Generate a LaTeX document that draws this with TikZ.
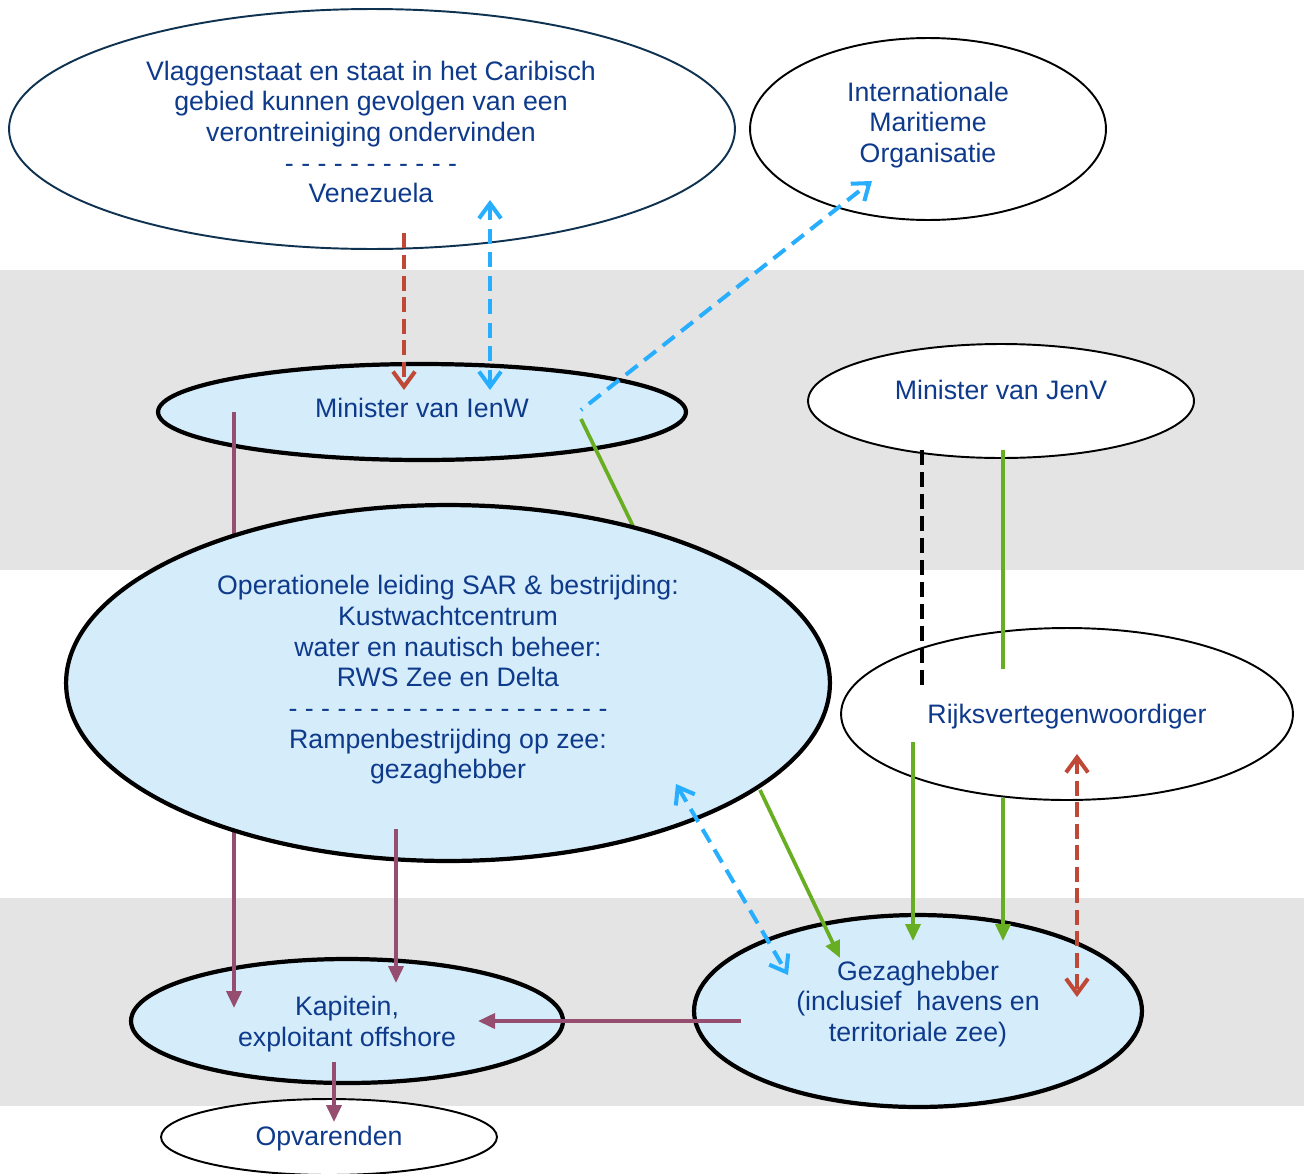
\documentclass[tikz,border=0pt]{standalone}
\usepackage{fontspec}
\setmainfont{Liberation Sans}
\usetikzlibrary{shapes.geometric,arrows.meta}
\definecolor{band}{RGB}{228,228,228}
\definecolor{lblue}{RGB}{213,236,250}
\definecolor{txtblue}{RGB}{14,58,140}
\definecolor{navy}{RGB}{14,50,80}
\definecolor{redc}{RGB}{192,72,55}
\definecolor{bluec}{RGB}{40,174,255}
\definecolor{greenc}{RGB}{104,174,34}
\definecolor{purplec}{RGB}{150,78,112}
\tikzset{
  ell/.style={ellipse, inner sep=0pt, draw=black},
  thinell/.style={ell, line width=1.1pt, fill=white},
  thickell/.style={ell, line width=2.4pt, fill=lblue},
  txt/.style={text=txtblue, align=center, inner sep=0pt,
    font=\fontsize{15.2}{17.45}\selectfont},
  purp/.style={draw=purplec, line width=2.1pt},
  purparrow/.style={purp, -{Triangle[length=0.34cm,width=0.3cm]}},
  grn/.style={draw=greenc, line width=2.1pt},
  grnarrow/.style={grn, -{Triangle[length=0.34cm,width=0.3cm]}},
  bluedash/.style={draw=bluec, line width=2.3pt, dash pattern=on 0.3cm off 0.17cm},
  reddash/.style={draw=redc, line width=2.3pt, dash pattern=on 0.3cm off 0.13cm},
  blackdash/.style={draw=black, line width=2.3pt, dash pattern=on 0.3cm off 0.14cm},
  openbarb/.tip={Straight Barb[length=0.3cm,width=0.44cm,line width=2.3pt]},
}
\begin{document}
\begin{tikzpicture}[x=0.02cm,y=-0.02cm]
\useasboundingbox (0,0) rectangle (1304,1173);
% background bands
\fill[band] (0,270) rectangle (1304,570);
\fill[band] (0,898) rectangle (1304,1106);

% upper ellipses
\node[thinell, draw=navy, minimum width=14.52cm, minimum height=4.8cm] (vlag) at (372,129) {};
\node[thinell, minimum width=7.12cm, minimum height=3.64cm] (imo) at (928,129) {};
\node[thinell, minimum width=7.72cm, minimum height=2.28cm] (jenv) at (1001,401) {};
\node[thickell, minimum width=10.56cm, minimum height=1.92cm] (ienw) at (422,412) {};
\node[thickell, minimum width=8.64cm, minimum height=2.48cm] (kap) at (347,1021) {};

% connectors passing behind the operational ellipse
\coordinate (p1s) at (234,412);
\coordinate (p1e) at (234,1008);
\draw[purparrow] (p1s) -- (p1e);
\coordinate (g1s) at (581,419);
\coordinate (g1e) at (633,526);
\draw[grn] (g1s) -- (g1e);

\node[thickell, minimum width=15.28cm, minimum height=7.12cm] (oper) at (448,683) {};
\node[thinell, minimum width=9.04cm, minimum height=3.44cm] (rijks) at (1067,714) {};
\node[thickell, minimum width=8.96cm, minimum height=3.84cm] (gez) at (918,1011) {};
\node[thinell, minimum width=6.72cm, minimum height=1.52cm] (opv) at (329,1137) {};

% connectors
\coordinate (r1s) at (404,233);
\coordinate (r1e) at (404,390);
\draw[reddash, -{openbarb}] (r1s) -- (r1e);
\coordinate (b1s) at (490,200);
\coordinate (b1e) at (490,390);
\draw[bluedash, {openbarb}-{openbarb}] (b1s) -- (b1e);
\coordinate (b2s) at (581,410);
\coordinate (b2e) at (872,181);
\draw[bluedash, dash phase=0.27cm, -{openbarb}] (b2s) -- (b2e);

\coordinate (p2s) at (396,829);
\coordinate (p2e) at (396,983);
\draw[purparrow] (p2s) -- (p2e);
\coordinate (p3s) at (741,1021);
\coordinate (p3e) at (478,1021);
\draw[purparrow] (p3s) -- (p3e);
\coordinate (p4s) at (334,1062);
\coordinate (p4e) at (334,1122);
\draw[purparrow] (p4s) -- (p4e);

\coordinate (g2s) at (760,790);
\coordinate (g2e) at (840,958);
\draw[grnarrow] (g2s) -- (g2e);
\coordinate (b3s) at (676,784);
\coordinate (b3e) at (788,975);
\draw[bluedash, {openbarb}-{openbarb}] (b3s) -- (b3e);

\coordinate (k1s) at (922,450);
\coordinate (k1e) at (922,688);
\draw[blackdash] (k1s) -- (k1e);
\coordinate (g3s) at (1003,450);
\coordinate (g3e) at (1003,669);
\draw[grn] (g3s) -- (g3e);
\coordinate (g4s) at (913,742);
\coordinate (g4e) at (913,941);
\draw[grnarrow] (g4s) -- (g4e);
\coordinate (g5s) at (1003,798);
\coordinate (g5e) at (1003,941);
\draw[grnarrow] (g5s) -- (g5e);
\coordinate (r2s) at (1077,754);
\coordinate (r2e) at (1077,997);
\draw[reddash, {openbarb}-{openbarb}] (r2s) -- (r2e);

% texts
\node[txt] (vlagT) at (371,132) {Vlaggenstaat en staat in het Caribisch\\gebied kunnen gevolgen van een\\verontreiniging ondervinden\\- - - - - - - - - - -\\Venezuela};
\node[txt] (imoT) at (928,125) {Internationale\\Maritieme\\Organisatie};
\node[txt] (ienwT) at (422,408) {Minister van IenW};
\node[txt] (jenvT) at (1001,390) {Minister van JenV};
\node[txt] (operT) at (448,680) {Operationele leiding SAR \& bestrijding:\\Kustwachtcentrum\\water en nautisch beheer:\\RWS Zee en Delta\\- - - - - - - - - - - - - - - - - - - -\\Rampenbestrijding op zee:\\gezaghebber};
\node[txt] (rijksT) at (1067,717) {Rijksvertegenwoordiger};
\node[txt] (gezT) at (918,1004) {Gezaghebber\\(inclusief~ havens en\\territoriale zee)};
\node[txt] (kapT) at (347,1024) {Kapitein,\\exploitant offshore};
\node[txt] (opvT) at (329,1139) {Opvarenden};
\end{tikzpicture}
\end{document}
